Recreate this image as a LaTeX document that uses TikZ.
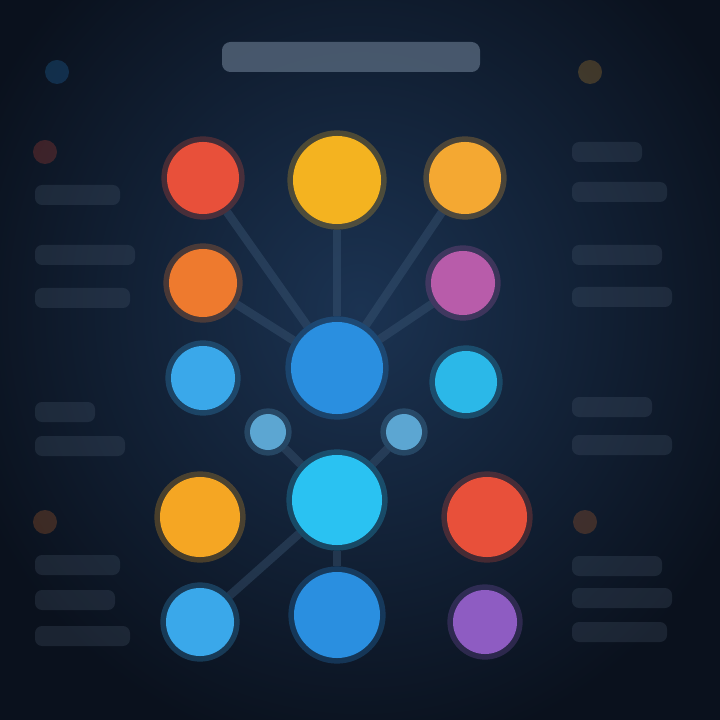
\documentclass[tikz,border=0pt]{standalone}
\usetikzlibrary{positioning}
\definecolor{bgin}{HTML}{1B3352}
\definecolor{bgout}{HTML}{0A111D}
\definecolor{barc}{HTML}{5A6B80}
\definecolor{linkc}{HTML}{3E5A78}
\definecolor{cred}{HTML}{E8503A}
\definecolor{cgold}{HTML}{F4B320}
\definecolor{camber}{HTML}{F4A832}
\definecolor{corange}{HTML}{EE7A2E}
\definecolor{cmagenta}{HTML}{B85CAA}
\definecolor{csky}{HTML}{3AA8EA}
\definecolor{cblue}{HTML}{2A8FE0}
\definecolor{ccyan}{HTML}{2BB8E8}
\definecolor{cpale}{HTML}{5CA6D2}
\definecolor{caqua}{HTML}{2AC2F2}
\definecolor{cyellow}{HTML}{F5A623}
\definecolor{cpurple}{HTML}{8E5CC2}

\tikzset{
  bubble/.style={circle,inner sep=0pt,fill=#1,draw=#1,draw opacity=0.25,line width=8pt},
  faintbar/.style={rounded corners=5pt,fill=barc,fill opacity=0.22},
  titlebar/.style={rounded corners=6pt,fill=barc,fill opacity=0.75},
  dimdot/.style={circle,inner sep=0pt,minimum size=0.6cm,fill=#1,fill opacity=0.22},
  link/.style={draw=linkc,line width=6pt,draw opacity=0.4}
}

\begin{document}
\begin{tikzpicture}[x=0.025cm,y=-0.025cm]
  \useasboundingbox (0,0) rectangle (720,720);
  \shade[inner color=bgin,outer color=bgout] (-60,-140) rectangle (780,760);

  % title and side columns
  \fill[titlebar] (222,42) rectangle (480,72);
  \node[dimdot=cblue] (ldot1) at (57,72) {};
  \node[dimdot=cred] (ldot2) at (45,152) {};
  \node[dimdot=corange] (ldot3) at (45,522) {};
  \node[dimdot=camber] (rdot1) at (590,72) {};
  \node[dimdot=corange] (rdot2) at (585,522) {};
  \foreach \y/\w in {185/85,245/100,288/95,402/60,436/90,555/85,590/80,626/95}
    \fill[faintbar] (35,\y) rectangle ++(\w,20);
  \foreach \y/\w in {142/70,182/95,245/90,287/100,397/80,435/100,556/90,588/100,622/95}
    \fill[faintbar] (572,\y) rectangle ++(\w,20);

  % circles
  \node[bubble=cred,minimum size=1.8cm] (r1) at (203,178) {};
  \node[bubble=cgold,minimum size=2.2cm] (top) at (337,180) {};
  \node[bubble=camber,minimum size=1.8cm] (r2) at (465,178) {};
  \node[bubble=corange,minimum size=1.7cm] (o1) at (203,283) {};
  \node[bubble=cmagenta,minimum size=1.6cm] (m1) at (463,283) {};
  \node[bubble=csky,minimum size=1.6cm] (b1) at (203,378) {};
  \node[bubble=cblue,minimum size=2.3cm] (hub) at (337,368) {};
  \node[bubble=ccyan,minimum size=1.55cm] (c1) at (466,382) {};
  \node[bubble=cpale,minimum size=0.9cm] (s1) at (268,432) {};
  \node[bubble=cpale,minimum size=0.9cm] (s2) at (404,432) {};
  \node[bubble=caqua,minimum size=2.25cm] (core) at (337,500) {};
  \node[bubble=cyellow,minimum size=2cm] (y1) at (200,517) {};
  \node[bubble=cred,minimum size=2cm] (r3) at (487,517) {};
  \node[bubble=csky,minimum size=1.7cm] (b2) at (200,622) {};
  \node[bubble=cblue,minimum size=2.15cm] (b3) at (337,615) {};
  \node[bubble=cpurple,minimum size=1.6cm] (p1) at (485,622) {};

  \path[link]
    (top) edge (hub)
    (r1) edge (hub)
    (r2) edge (hub)
    (o1) edge (hub)
    (m1) edge (hub)
    (s1) edge (core)
    (s2) edge (core)
    (core) edge (b2)
    (core) edge (b3);
\end{tikzpicture}
\end{document}
